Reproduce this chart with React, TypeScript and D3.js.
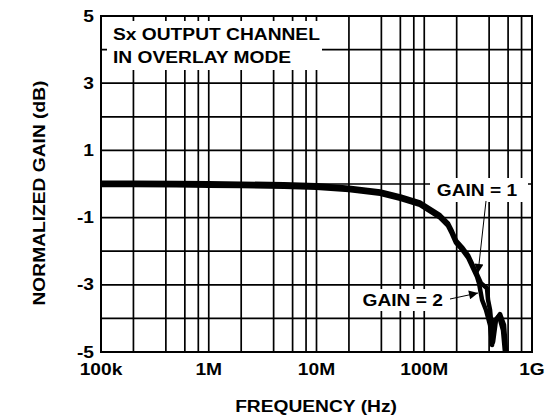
import React, { useEffect, useRef } from 'react';
import * as d3 from 'd3';

// shared part of both responses (Hz, dB)
const baseFreq = [1e5, 2e5, 5e5, 1e6, 2e6, 5e6, 1e7, 2e7, 3.9e7, 6e7, 9.1e7, 1.4e8, 1.66e8, 1.81e8, 1.97e8, 2.24e8, 2.55e8, 3.09e8];
const baseGain = [0.02, 0.02, 0.01, 0.0, -0.01, -0.03, -0.06, -0.13, -0.24, -0.39, -0.57, -0.95, -1.19, -1.43, -1.7, -1.9, -2.14, -2.71];

const gain1Freq = [3.36e8, 3.82e8, 3.91e8, 4.08e8, 4.35e8, 4.63e8, 5.05e8, 5.5e8, 5.74e8];
const gain1Gain = [-2.95, -3.1, -3.45, -3.75, -4.7, -4.05, -3.87, -4.2, -5.0];

const gain2Freq = [3.22e8, 3.44e8, 3.74e8, 4.08e8, 4.26e8, 4.44e8, 4.94e8, 5.38e8, 5.61e8];
const gain2Gain = [-2.95, -3.45, -3.75, -4.2, -4.79, -4.1, -3.93, -4.35, -5.0];

const xTicks = [1e5, 1e6, 1e7, 1e8, 1e9];
const xTickLabels = ['100k', '1M', '10M', '100M', '1G'];
const yTicks = [5, 3, 1, -1, -3, -5];
const gridMult = [1, 2, 4, 6, 8];

const FONT = '"Liberation Sans", Arial, sans-serif';
const SX = 1.13; // reference type is set a little wider than Arial

export default function App() {
  const ref = useRef<SVGSVGElement>(null);

  useEffect(() => {
    const width = 555, height = 416;
    const margin = { top: 16, left: 101, right: 23, bottom: 64 };
    const svg = d3.select(ref.current).attr('width', width).attr('height', height);
    svg.selectAll('*').remove();

    const x = d3.scaleLog().domain([1e5, 1e9]).range([margin.left, width - margin.right]);
    const y = d3.scaleLinear().domain([-5, 5]).range([height - margin.bottom, margin.top]);

    const vLines: number[] = [];
    for (let k = 0; k < 4; k++) gridMult.forEach(m => vLines.push(1e5 * Math.pow(10, k) * m));
    vLines.push(1e9);
    const hLines = d3.range(-5, 6);

    const grid = svg.append('g');
    grid.selectAll('.v').data(vLines).join('line')
      .attr('x1', d => x(d)).attr('x2', d => x(d))
      .attr('y1', y(5)).attr('y2', y(-5))
      .attr('stroke', '#000').attr('stroke-width', 1.7);
    grid.selectAll('.h').data(hLines).join('line')
      .attr('x1', x(1e5)).attr('x2', x(1e9))
      .attr('y1', d => y(d)).attr('y2', d => y(d))
      .attr('stroke', '#000').attr('stroke-width', 1.7);

    // white label boxes covering the grid
    svg.append('rect').attr('x', 107).attr('y', 21).attr('width', 215).attr('height', 49).attr('fill', '#fff');
    svg.append('rect').attr('x', 430).attr('y', 178).attr('width', 98).attr('height', 24).attr('fill', '#fff');
    svg.append('rect').attr('x', 358).attr('y', 289).attr('width', 90).attr('height', 22).attr('fill', '#fff');

    // frame
    svg.append('rect').attr('x', x(1e5)).attr('y', y(5))
      .attr('width', x(1e9) - x(1e5)).attr('height', y(-5) - y(5))
      .attr('fill', 'none').attr('stroke', '#000').attr('stroke-width', 2);

    const line = d3.line<[number, number]>().x(d => x(d[0])).y(d => y(d[1]));
    const s1 = baseFreq.map((f, i) => [f, baseGain[i] + 0.02] as [number, number])
      .concat(gain1Freq.map((f, i) => [f, gain1Gain[i]] as [number, number]));
    const s2 = baseFreq.map((f, i) => [f, baseGain[i] - 0.05] as [number, number])
      .concat(gain2Freq.map((f, i) => [f, gain2Gain[i]] as [number, number]));

    svg.selectAll('.curve').data([s1, s2]).join('path')
      .attr('d', d => line(d))
      .attr('fill', 'none').attr('stroke', '#000').attr('stroke-width', 4.5)
      .attr('stroke-linejoin', 'round').attr('stroke-linecap', 'butt');

    // arrows
    const defs = svg.append('defs');
    defs.append('marker').attr('id', 'ah').attr('viewBox', '0 0 10 10')
      .attr('refX', 10).attr('refY', 5).attr('markerWidth', 13).attr('markerHeight', 9)
      .attr('markerUnits', 'userSpaceOnUse').attr('orient', 'auto')
      .append('path').attr('d', 'M0,0 L10,5 L0,10 Z').attr('fill', '#000');
    svg.append('line').attr('x1', 486).attr('y1', 201).attr('x2', 478).attr('y2', 273)
      .attr('stroke', '#000').attr('stroke-width', 1).attr('marker-end', 'url(#ah)');
    svg.append('line').attr('x1', 450).attr('y1', 299).attr('x2', 478).attr('y2', 293)
      .attr('stroke', '#000').attr('stroke-width', 1).attr('marker-end', 'url(#ah)');

    const txt = (sel: any) => sel.attr('font-family', FONT).attr('font-weight', 'bold').attr('font-size', 17).attr('fill', '#000');
    const at = (px: number, py: number) => `translate(${px},${py}) scale(${SX},1)`;

    // tick labels
    svg.selectAll('.yl').data(yTicks).join('text').call(txt)
      .attr('transform', d => at(94, y(d))).attr('text-anchor', 'end').attr('dominant-baseline', 'central')
      .text(d => String(d));
    svg.selectAll('.xl').data(xTicks).join('text').call(txt)
      .attr('transform', d => at(x(d), 375)).attr('text-anchor', 'middle')
      .text((d, i) => xTickLabels[i]);

    // titles
    svg.append('text').call(txt).attr('transform', at(316, 412)).attr('text-anchor', 'middle').text('FREQUENCY (Hz)');
    svg.append('text').call(txt).attr('text-anchor', 'middle').attr('dominant-baseline', 'central')
      .attr('transform', `translate(39,193) rotate(-90) scale(${SX},1)`).text('NORMALIZED GAIN (dB)');

    svg.append('text').call(txt).attr('transform', at(113, 40)).text('Sx OUTPUT CHANNEL');
    svg.append('text').call(txt).attr('transform', at(113, 63)).text('IN OVERLAY MODE');
    svg.append('text').call(txt).attr('transform', at(477, 196)).attr('text-anchor', 'middle').text('GAIN = 1');
    svg.append('text').call(txt).attr('transform', at(443, 306)).attr('text-anchor', 'end').text('GAIN = 2');
  }, []);

  return (
    <div style={{ position: 'absolute', left: 0, top: 0 }}>
      <svg ref={ref}></svg>
    </div>
  );
}
